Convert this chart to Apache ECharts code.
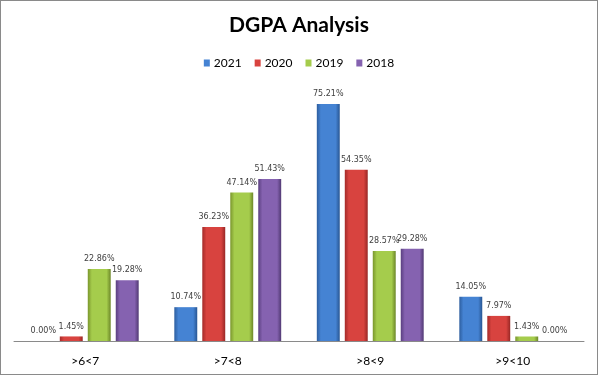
<!DOCTYPE html>
<html><head><meta charset="utf-8">
<script src="https://cdn.jsdelivr.net/npm/echarts@6/dist/echarts.min.js"></script>
<style>
html,body{margin:0;padding:0;background:#fff;}
#c{width:598px;height:375px;box-sizing:border-box;border:1px solid #8a8a8a;}
</style></head>
<body><div id="c"></div>
<script>
const categories = ['>6<7', '>7<8', '>8<9', '>9<10'];
const seriesNames = ['2021', '2020', '2019', '2018'];
const v2021 = [0.00, 10.74, 75.21, 14.05];
const v2020 = [1.45, 36.23, 54.35, 7.97];
const v2019 = [22.86, 47.14, 28.57, 1.43];
const v2018 = [19.28, 51.43, 29.28, 0.00];
const values = [v2021, v2020, v2019, v2018];
const palette = [
  ['#2d5e9f', '#4583d3', '#285693'],
  ['#a42b29', '#d8433f', '#982725'],
  ['#7a962d', '#a5cc4c', '#6c8628'],
  ['#5a3f80', '#8562b0', '#513973']
];
function grad(p){
  return new echarts.graphic.LinearGradient(0,0,1,0,[
    {offset:0,color:p[0]},{offset:0.18,color:p[1]},{offset:0.82,color:p[1]},{offset:1,color:p[2]}
  ]);
}
const chart = echarts.init(document.getElementById('c'), null, {renderer:'canvas'});
chart.setOption({
  animation:false,
  title:{text:'DGPA Analysis',left:'center',top:9,
    textStyle:{fontFamily:'Lato',fontWeight:'bold',fontSize:21,color:'#000'}},
  legend:{top:51,left:'center',itemWidth:6,itemHeight:7,itemGap:13,
    textStyle:{fontFamily:'Lato',fontSize:12,color:'#000',padding:[0,0,0,-1]},
    data:seriesNames.map((n,i)=>({name:n,icon:'rect',itemStyle:{color:palette[i][1]}}))},
  grid:{left:13,right:13,top:88,bottom:33},
  xAxis:{type:'category',data:categories,
    axisLine:{lineStyle:{color:'#8a8a8a',width:1}},axisTick:{show:false},
    axisLabel:{fontFamily:'Lato',fontSize:12,color:'#000',margin:14}},
  yAxis:{type:'value',min:0,max:80,show:false,splitLine:{show:false}},
  series:seriesNames.map((n,i)=>({
    name:n,type:'bar',data:values[i],barGap:'22%',barCategoryGap:'25%',
    itemStyle:{color:grad(palette[i])},
    label:{show:true,position:'top',distance:6,fontFamily:'Verdana, DejaVu Sans',fontSize:8,color:'#404040',
      formatter:p=>p.value.toFixed(2)+'%'}
  }))
});
</script></body></html>
